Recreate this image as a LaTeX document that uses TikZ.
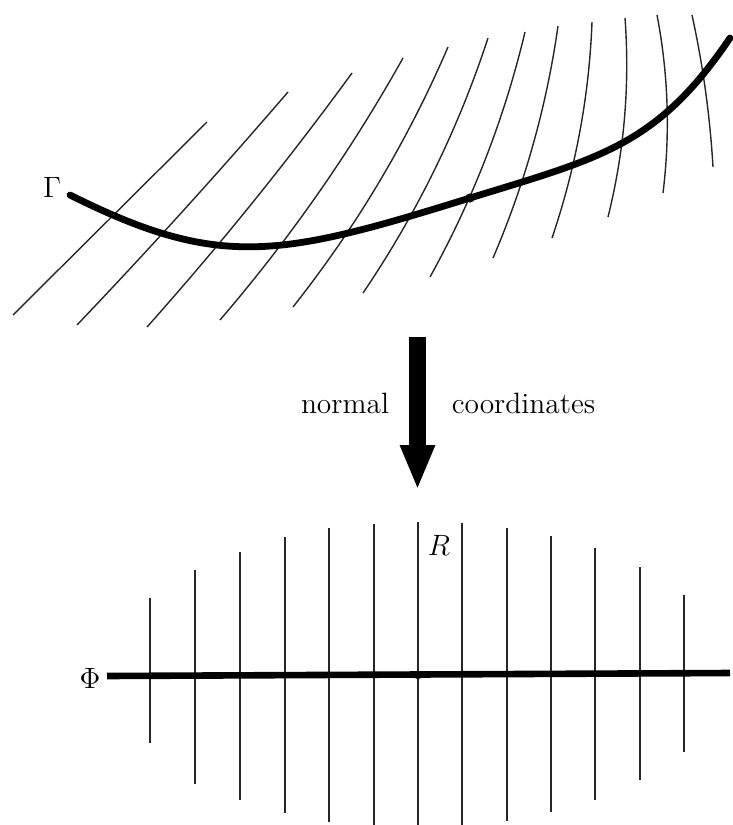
\documentclass[tikz,border=0pt]{standalone}
\usepackage{fix-cm}
\usetikzlibrary{arrows.meta,calc}
\begin{document}
\begin{tikzpicture}[x=0.5pt,y=-0.5pt,
  curvegamma/.style={line width=3.4pt, line cap=round},
  hatch/.style={line width=0.7pt, black!85},
  rline/.style={line width=0.8pt, black!85},
  lbl/.style={inner sep=0pt, font=\fontsize{14.7}{17}\selectfont}]
\useasboundingbox (0,0) rectangle (733,825);

% ---- top: family of curves crossing Gamma (bottom end, top end, bow)
\foreach \bx/\by/\tx/\ty/\bw in {
  13/315/207/122/0, 77/325/288/92/2, 147/327/352/73/4, 220/320/403/58/8,
  293/307/448/47/10, 363/293/488/38/10, 430/277/525/32/9, 493/258/558/26/8,
  552/238/592/22/8, 608/217/625/18/8, 663/193/657/15/7, 713/167/692/15/3}{
  \coordinate (B) at (\bx,\by);
  \coordinate (T) at (\tx,\ty);
  \coordinate (M) at ($(B)!0.5!(T)$);
  \coordinate (Q) at ($(M)!\bw pt!-90:(T)$);
  \draw[hatch] (B) .. controls ($(B)!2/3!(Q)$) and ($(T)!2/3!(Q)$) .. (T);
}

% ---- Gamma
\coordinate (g0) at (70,195);
\coordinate (p) at (470,198);
\coordinate (g1) at (730,38);
\draw[curvegamma] (g0) .. controls (220,270) and (280,257) .. (p)
  .. controls (600,158) and (657,146) .. (g1);
\fill (p) circle (2.3pt);
\node[lbl] (gamma) at (52,187) {$\Gamma$};

% ---- arrow and its labels
\coordinate (atop) at (417.5,337);
\coordinate (atip) at (417.5,490);
\draw[line width=8.5pt, -{Triangle[length=22.5pt,width=16pt]}] (atop) -- (atip);
\node[lbl, anchor=base] (normal) at (345,413) {normal};
\node[lbl, anchor=base] (coord) at (523.5,413) {coordinates};

% ---- bottom: straightened picture
\foreach \x/\t/\b in {150/598/743, 195/570/784, 240/552/800, 285/537/813,
  329/528/822, 374/524/826, 418/522/826, 462/523/826, 507/528/821,
  551/536/812, 595/548/800, 640/567/780, 684/595/752}
  \draw[rline] (\x,\t) -- (\x,\b);
\coordinate (phiL) at (107,676);
\coordinate (phiR) at (730,673);
\draw[line width=3.3pt] (phiL) -- (phiR);
\coordinate (q) at (418,675);
\fill (q) circle (2.1pt);
\node[lbl] (phi) at (90,678) {$\Phi$};
\node[lbl] (R) at (439,545) {$R$};
\end{tikzpicture}
\end{document}
